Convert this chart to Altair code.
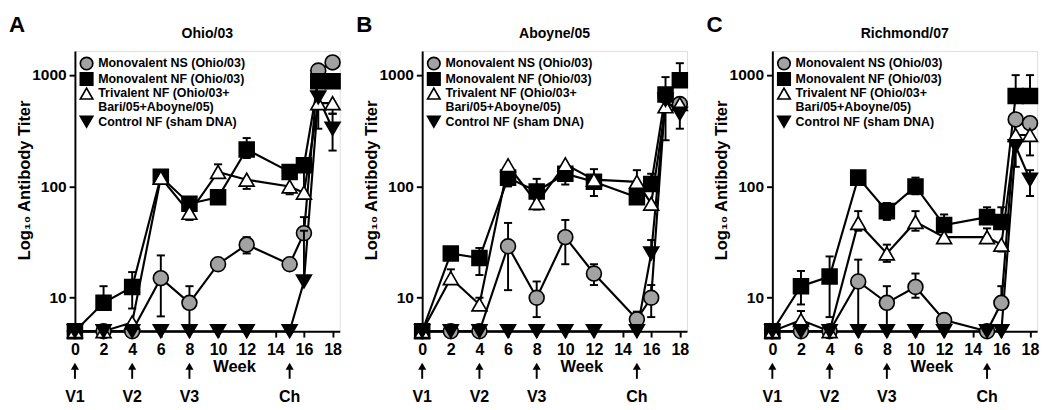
import altair as alt
import pandas as pd

# ---------------- data ----------------
WEEKS = [0, 2, 4, 6, 8, 10, 12, 15, 16, 17, 18]

SERIES = ["Monovalent NS (Ohio/03)", "Monovalent NF (Ohio/03)",
          "Trivalent NF (Ohio/03+Bari/05+Aboyne/05)", "Control NF (sham DNA)"]

# Panel A : Ohio/03
OH_NS = [5, 5, 5, 15, 9, 20, 30, 20, 38, 1100, 1300]
OH_NS_HI = [None, None, None, 24, 12.7, None, 35, None, 53, None, None]
OH_NS_LO = [None, None, None, 6.8, 5, None, 25, None, None, None, None]
OH_NF = [5, 9, 12.5, 122, 70, 80, 215, 135, 155, 880, 880]
OH_NF_HI = [None, 12.7, 17, 140, None, None, 272, 150, None, None, None]
OH_NF_LO = [None, None, 8, None, None, None, 180, None, None, None, None]
OH_TRI = [5, 5, 6, 120, 58, 135, 115, 100, 88, 560, 560]
OH_TRI_HI = [None, None, None, None, None, 158, None, None, 150, None, None]
OH_TRI_LO = [None, None, None, None, 50, None, 95, 85, None, 330, 450]
OH_CTL = [5, 5, 5, 5, 5, 5, 5, 5, 14, 630, 330]
OH_CTL_HI = [None, None, None, None, None, None, None, None, 40, None, 450]
OH_CTL_LO = [None, None, None, None, None, None, None, None, None, None, 210]

# Panel B : Aboyne/05
AB_NS = [5, 5, 5, 29, 10, 35, 16.5, 6.4, 10, 650, 550]
AB_NS_HI = [None, None, None, 47, 14, 50, 20, 7.5, 13, None, None]
AB_NS_LO = [None, None, None, 11.7, 6.7, 20, 13, None, 6.7, None, None]
AB_NF = [5, 25, 22.7, 120, 90, 130, 110, 80, 105, 670, 900]
AB_NF_HI = [None, 28, 28, None, 117, None, 143, None, 130, 960, 1280]
AB_NF_LO = [None, None, 16, 100, None, 104, 82, None, None, None, None]
AB_TRI = [5, 15, 8.7, 155, 71, 158, 115, 110, 70, 525, 550]
AB_TRI_HI = [None, 18, 10, None, None, None, None, 140, None, None, None]
AB_TRI_LO = [None, None, None, None, 62, None, None, None, None, 260, None]
AB_CTL = [5, 5, 5, 5, 5, 5, 5, 5, 25, 600, 450]
AB_CTL_HI = [None, None, None, None, None, None, None, None, 33, None, None]
AB_CTL_LO = [None, None, None, None, None, None, None, None, None, None, 330]

# Panel C : Richmond/07
RI_NS = [5, 5, 5, 14, 9, 12.5, 6.3, 5, 9, 400, 370]
RI_NS_HI = [None, None, None, 22, 12.7, 16.5, 7, None, 12.7, None, None]
RI_NS_LO = [None, None, None, 5, 5, 10, None, None, None, None, None]
RI_NF = [5, 12.7, 15.5, 120, 60, 100, 45, 53, 48, 650, 650]
RI_NF_HI = [None, 17.4, 23.5, 135, 71, 120, 56, 65, 65, 1000, 1000]
RI_NF_LO = [None, 8.7, 6.7, None, 50, 85, None, None, None, None, None]
RI_TRI = [5, 6.3, 5, 47, 25, 48, 35, 35, 30, 290, 290]
RI_TRI_HI = [None, 7.6, None, 60, 30, 60, None, 42, None, None, None]
RI_TRI_LO = [None, None, None, 40, 21, 40, 31, 31, 26, 150, 190]
RI_CTL = [5, 5, 5, 5, 5, 5, 5, 5, 5, 230, 115]
RI_CTL_HI = [None, None, None, None, None, None, None, None, None, None, 140]
RI_CTL_LO = [None, None, None, None, None, None, None, None, None, None, 82]

ARROW_WEEKS = [0, 4, 8, 15]
ARROW_LABELS = ["V1", "V2", "V3", "Ch"]

X_TICKS = [0, 2, 4, 6, 8, 10, 12, 14, 16, 18]
Y_TICKS = [10, 100, 1000]

LEGEND_LINES = ["Monovalent NS (Ohio/03)", "Monovalent NF (Ohio/03)",
                "Trivalent NF (Ohio/03+", "Bari/05+Aboyne/05)",
                "Control NF (sham DNA)"]

PANELS = [
    ("A", "Ohio/03", [(OH_NS, OH_NS_LO, OH_NS_HI), (OH_NF, OH_NF_LO, OH_NF_HI),
                      (OH_TRI, OH_TRI_LO, OH_TRI_HI), (OH_CTL, OH_CTL_LO, OH_CTL_HI)]),
    ("B", "Aboyne/05", [(AB_NS, AB_NS_LO, AB_NS_HI), (AB_NF, AB_NF_LO, AB_NF_HI),
                        (AB_TRI, AB_TRI_LO, AB_TRI_HI), (AB_CTL, AB_CTL_LO, AB_CTL_HI)]),
    ("C", "Richmond/07", [(RI_NS, RI_NS_LO, RI_NS_HI), (RI_NF, RI_NF_LO, RI_NF_HI),
                          (RI_TRI, RI_TRI_LO, RI_TRI_HI), (RI_CTL, RI_CTL_LO, RI_CTL_HI)]),
]

# ---------------- style ----------------
FONT = "Liberation Sans"
W, H = 273, 289
XDOM = [0, 18.5]
YDOM = [5, 1650]
GRAY = "#a2a2a2"
STYLES = [("circle", GRAY), ("square", "black"), ("triangle-up", "white"), ("triangle-down", "black")]

x_axis = alt.Axis(values=X_TICKS, format="d", title="Week", titleFontSize=17,
                  titleFontWeight="bold", titleX=164, titleY=37, titleBaseline="middle",
                  labelFontSize=16.5, labelFontWeight="bold", labelPadding=5, labelFlush=False,
                  labelOverlap=False, tickSize=6, tickWidth=2, domainWidth=2,
                  domainColor="black", tickColor="black", labelColor="black",
                  titleColor="black", grid=False, labelFont=FONT, titleFont=FONT)
y_axis = alt.Axis(values=Y_TICKS, format="d", title="Log₁₀ Antibody Titer", titleFontSize=17,
                  titleFontWeight="bold", titleX=-52, titleY=133, titleBaseline="middle",
                  labelFontSize=16, labelFontWeight="bold", labelPadding=3, labelFlush=False,
                  tickSize=6, tickWidth=2, domainWidth=2, domainColor="black",
                  tickColor="black", labelColor="black", titleColor="black", grid=False,
                  labelFont=FONT, titleFont=FONT)


def xenc(field="week"):
    return alt.X(f"{field}:Q", scale=alt.Scale(domain=XDOM, nice=False, zero=False), axis=x_axis)


def yenc(field="value"):
    return alt.Y(f"{field}:Q", scale=alt.Scale(type="log", domain=YDOM, nice=False), axis=y_axis)


def text_layer(txt, x, y, size, align="left", baseline="middle"):
    return alt.Chart(pd.DataFrame({"t": [txt]})).mark_text(
        font=FONT, fontSize=size, fontWeight="bold", color="black",
        align=align, baseline=baseline).encode(x=alt.value(x), y=alt.value(y), text="t:N")


def panel(letter, name, series):
    rows = []
    for k, (vals, lo, hi) in enumerate(series):
        for i, wk in enumerate(WEEKS):
            v = vals[i]
            l = lo[i] if lo[i] is not None else v
            h = hi[i] if hi[i] is not None else v
            rows.append({"series": k, "week": wk, "value": v, "lo": l, "hi": h,
                         "has_err": (lo[i] is not None) or (hi[i] is not None),
                         "has_lo": lo[i] is not None, "has_hi": hi[i] is not None})
    df = pd.DataFrame(rows)
    layers = []
    # connecting lines
    layers.append(alt.Chart(df).mark_line(color="black", strokeWidth=2.2).encode(
        x=xenc(), y=yenc(), detail="series:N", order="week:Q"))
    for k, (shape, fill) in enumerate(STYLES):
        sub = df[df.series == k]
        err = sub[sub.has_err]
        if len(err):
            layers.append(alt.Chart(err).mark_rule(color="black", strokeWidth=2).encode(
                x=xenc(), y=yenc("lo"), y2="hi:Q"))
        hi_d = sub[sub.has_hi]
        if len(hi_d):
            layers.append(alt.Chart(hi_d).mark_point(shape="M-1,0L1,0", size=70, filled=False,
                                                      stroke="black", strokeWidth=2, opacity=1).encode(
                x=xenc(), y=yenc("hi")))
        lo_d = sub[sub.has_lo]
        if len(lo_d):
            layers.append(alt.Chart(lo_d).mark_point(shape="M-1,0L1,0", size=70, filled=False,
                                                      stroke="black", strokeWidth=2, opacity=1).encode(
                x=xenc(), y=yenc("lo")))
        layers.append(alt.Chart(sub).mark_point(shape=shape, size=235, filled=True, fill=fill,
                                                stroke="black", strokeWidth=1.7, opacity=1).encode(
            x=xenc(), y=yenc()))

    # vaccination / challenge arrows
    adf = pd.DataFrame({"week": ARROW_WEEKS, "label": ARROW_LABELS})
    layers.append(alt.Chart(adf).mark_rule(color="black", strokeWidth=2).encode(
        x=xenc(), y=alt.value(326), y2=alt.value(338)))
    layers.append(alt.Chart(adf).mark_point(shape="triangle-up", size=70, filled=True,
                                            color="black", opacity=1).encode(
        x=xenc(), y=alt.value(325)))
    layers.append(alt.Chart(adf).mark_text(font=FONT, fontSize=16.5, fontWeight="bold",
                                           color="black", baseline="middle").encode(
        x=xenc(), y=alt.value(357), text="label:N"))

    # legend drawn by hand
    leg_y = [13, 29, 44, 58, 73]
    sym_rows = [(0, 0), (1, 1), (2, 2), (4, 3)]
    for row, k in sym_rows:
        shape, fill = STYLES[k]
        layers.append(alt.Chart(pd.DataFrame({"d": [0]})).mark_point(
            shape=shape, size=165, filled=True, fill=fill, stroke="black",
            strokeWidth=1.7, opacity=1).encode(x=alt.value(12), y=alt.value(leg_y[row])))
    for row, line in enumerate(LEGEND_LINES):
        layers.append(text_layer(line, 24, leg_y[row], 12.8))

    # panel title and letter
    layers.append(text_layer(name, W / 2, -17, 14.5, align="center"))
    layers.append(text_layer(letter, -68, -37, 23, baseline="top"))

    return alt.layer(*layers).properties(width=W, height=H)


pA, pB, pC = [panel(l, n, s) for l, n, s in PANELS]
chart = alt.hconcat(alt.hconcat(pA, pB, spacing=11), pC, spacing=14).properties(
    padding={"left": 0, "top": 0, "right": 0, "bottom": 0}
).configure_view(stroke=None).configure(font=FONT)

chart.save("out.html", embed_options={"renderer": "svg", "actions": False})
